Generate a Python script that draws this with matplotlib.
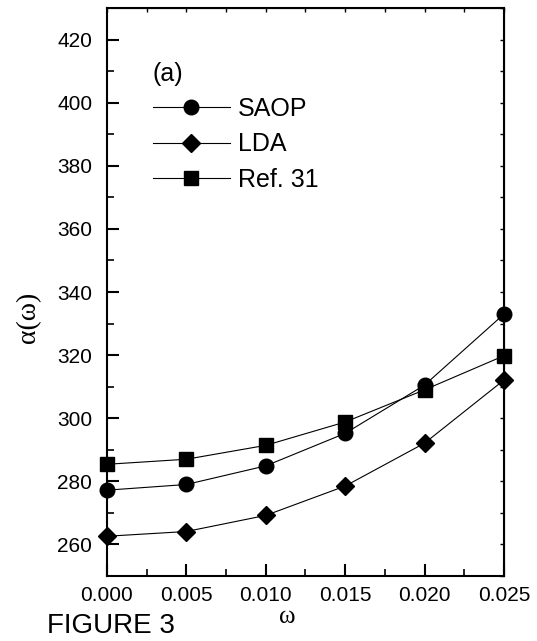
import matplotlib.pyplot as plt
from matplotlib.ticker import MultipleLocator

plt.rcParams['font.family'] = ['Liberation Sans', 'DejaVu Sans']

omega = [0.000, 0.005, 0.010, 0.015, 0.020, 0.025]
saop = [277.2, 279.0, 284.9, 295.2, 310.5, 333.0]
lda = [262.6, 264.1, 269.2, 278.5, 292.1, 312.1]
ref31 = [285.4, 287.0, 291.4, 298.8, 309.0, 319.8]

fig = plt.figure(figsize=(5.37, 6.41), dpi=100)
ax = fig.add_axes([0.199, 0.1014, 0.7395, 0.8861])

ax.plot(omega, saop, '-o', color='black', lw=0.8, ms=10.5, label='SAOP', clip_on=False)
ax.plot(omega, lda, '-D', color='black', lw=0.8, ms=9, label='LDA', clip_on=False)
ax.plot(omega, ref31, '-s', color='black', lw=0.8, ms=10, label='Ref. 31', clip_on=False)

ax.set_xlim(0, 0.025)
ax.set_ylim(250, 430)
ax.xaxis.set_major_locator(MultipleLocator(0.005))
ax.xaxis.set_minor_locator(MultipleLocator(0.0025))
ax.yaxis.set_minor_locator(MultipleLocator(10))
ax.set_yticks([260, 280, 300, 320, 340, 360, 380, 400, 420])
ax.xaxis.set_major_formatter(plt.FuncFormatter(lambda v, p: '%.3f' % v))

for s in ax.spines.values():
    s.set_linewidth(1.5)
ax.tick_params(which='major', direction='in', length=8.5, width=1.5, labelsize=15)
ax.tick_params(axis='y', which='major', pad=10.5)
ax.tick_params(axis='x', which='major', pad=7)
ax.tick_params(which='minor', direction='in', length=5, width=1.2)

sec_y = ax.secondary_yaxis('right')
sec_y.yaxis.set_major_locator(MultipleLocator(10))
sec_y.tick_params(direction='in', length=3, width=1, labelright=False)
sec_x = ax.secondary_xaxis('top')
sec_x.xaxis.set_major_locator(MultipleLocator(0.0025))
sec_x.tick_params(direction='in', length=3, width=1, labeltop=False)

ax.set_ylabel('α(ω)', fontsize=20, family='Liberation Serif')
ax.yaxis.set_label_coords(-0.165, 0.456)
fig.text(0.535, 0.038, 'ω', fontsize=18, family='Liberation Serif', ha='center', va='center')
fig.text(0.088, 0.013, 'FIGURE 3', fontsize=20, va='baseline')

ax.text(0.0029, 409, '(a)', fontsize=18, va='center')
ax.legend(loc='upper left', bbox_to_anchor=(0.116, 0.843), frameon=False, fontsize=18,
          handlelength=3.08, handletextpad=0.32, labelspacing=0.45, borderpad=0,
          borderaxespad=0)

fig.savefig('out.png', dpi=100)
